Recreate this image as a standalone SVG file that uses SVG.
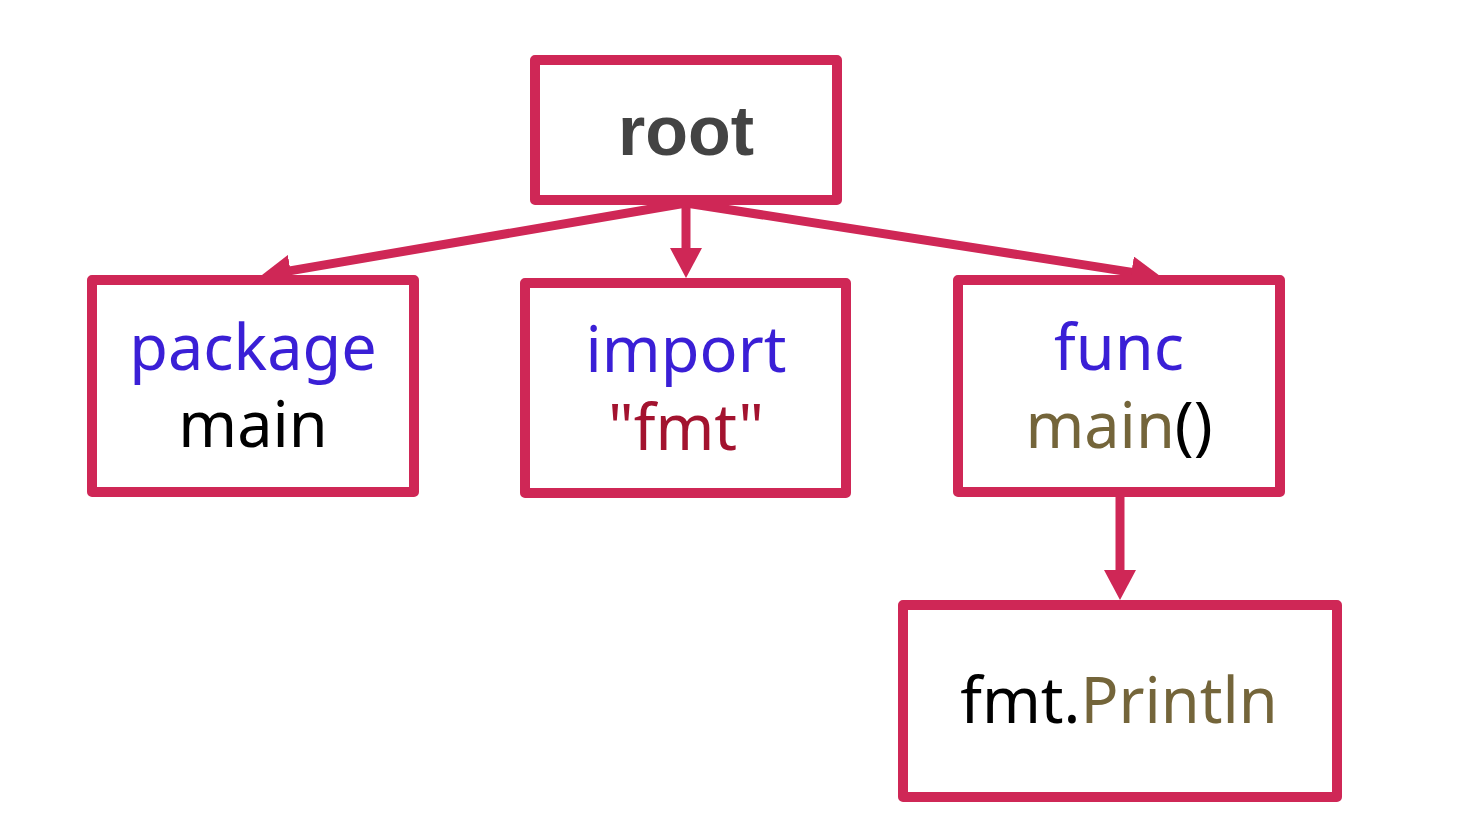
<svg xmlns="http://www.w3.org/2000/svg" width="1461" height="826" viewBox="0 0 1461 826">
<defs>
<style>
.box{fill:#ffffff;stroke:#cf2756;stroke-width:10;stroke-linejoin:round}
.edge{stroke:#cf2756;stroke-width:9;fill:none}
.t{font-family:"Noto Sans","Open Sans","DejaVu Sans",sans-serif;font-size:63px;text-anchor:middle}
.kw{fill:#3a1fd6}
.blk{fill:#000000}
.str{fill:#a3132f}
.fn{fill:#74653a}
</style>
<marker id="ah" markerUnits="userSpaceOnUse" viewBox="0 0 30 32" markerWidth="30" markerHeight="32" refX="1" refY="16" orient="auto">
<path d="M0,0 L30,16 L0,32 z" fill="#cf2756"/>
</marker>
</defs>
<rect width="1461" height="826" fill="#ffffff"/>
<g id="connectors">
<line class="edge" x1="686" y1="203" x2="289.6" y2="270.9" marker-end="url(#ah)"/>
<line class="edge" x1="686" y1="203" x2="686" y2="249" marker-end="url(#ah)"/>
<line class="edge" x1="686" y1="203" x2="1132.4" y2="272.4" marker-end="url(#ah)"/>
<line class="edge" x1="1120" y1="496" x2="1120" y2="571" marker-end="url(#ah)"/>
</g>
<g id="root">
<rect class="box" x="535" y="60" width="302" height="140"/>
<text x="686" y="155" font-family="'Liberation Sans',Arial,sans-serif" font-weight="bold" font-size="70" fill="#434343" text-anchor="middle">root</text>
</g>
<g id="package">
<rect class="box" x="92" y="280" width="322" height="212"/>
<text class="t kw" x="253" y="370">package</text>
<text class="t blk" x="253" y="447">main</text>
</g>
<g id="import">
<rect class="box" x="525" y="283" width="321" height="210"/>
<text class="t kw" x="686" y="372">import</text>
<text class="t str" x="686" y="450">"fmt"</text>
</g>
<g id="func">
<rect class="box" x="958" y="280" width="322" height="212"/>
<text class="t kw" x="1119" y="370">func</text>
<text class="t" x="1119" y="448"><tspan class="fn">main</tspan><tspan class="blk">()</tspan></text>
</g>
<g id="println">
<rect class="box" x="903" y="605" width="434" height="192"/>
<text class="t" x="1119" y="723"><tspan class="blk">fmt.</tspan><tspan class="fn">Println</tspan></text>
</g>
</svg>
